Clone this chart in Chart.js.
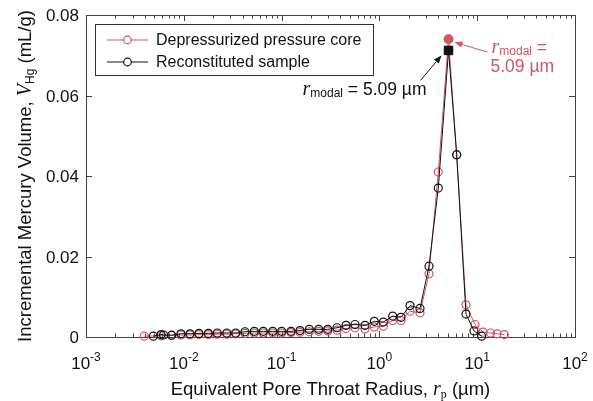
<!DOCTYPE html>
<html>
<head>
<meta charset="utf-8">
<script src="https://cdn.jsdelivr.net/npm/chart.js@4.4.1/dist/chart.umd.min.js"></script>
<style>
  html, body { margin: 0; padding: 0; background: #fff; }
  #wrap { width: 593px; height: 401px; }
</style>
</head>
<body>
<div id="wrap"><canvas id="poreChart" width="593" height="401"></canvas></div>
<script>
// ----------------------------- Data ------------------------------------------
// Reconstituted sample (black)
const rpRecon = [0.00488, 0.00585, 0.00622, 0.00751, 0.00935, 0.01156, 0.01428, 0.0178, 0.0220, 0.0275,
  0.0339, 0.0422, 0.0526, 0.0650, 0.0811, 0.1002, 0.1248, 0.1542, 0.1919, 0.2394,
  0.2960, 0.3685, 0.4556, 0.563, 0.712, 0.887, 1.096, 1.368, 1.663, 2.056,
  2.601, 3.215, 4.00, 5.09, 6.17, 7.68, 9.28, 11.1];
const vRecon = [0.0002, 0.0006, 0.0005, 0.00045, 0.0008, 0.0008, 0.0009, 0.0009, 0.0010, 0.0010,
  0.0010, 0.0013, 0.0014, 0.0014, 0.0014, 0.0014, 0.0014, 0.0016, 0.0019, 0.0019,
  0.0019, 0.0023, 0.0029, 0.0031, 0.0029, 0.0039, 0.0037, 0.0052, 0.0049, 0.0078,
  0.0071, 0.0176, 0.0370, 0.0712, 0.0453, 0.0057, 0.0015, 0.0002];

// Depressurized pressure core (red)
const rpDepress = [0.00394, 0.00585, 0.00751, 0.00935, 0.01156, 0.01428, 0.0178, 0.0220, 0.0275, 0.0339,
  0.0422, 0.0526, 0.0650, 0.0811, 0.1002, 0.1248, 0.1542, 0.1919, 0.2394, 0.2960,
  0.3685, 0.4556, 0.563, 0.712, 0.887, 1.096, 1.368, 1.663, 2.056, 2.601,
  3.215, 4.00, 5.09, 6.17, 7.68, 9.5, 11.47, 13.68, 15.94, 18.93];
const vDepress = [0.0002, 0.0003, 0.0004, 0.0005, 0.0005, 0.0006, 0.0006, 0.0007, 0.0007, 0.0008,
  0.0009, 0.0010, 0.0010, 0.0010, 0.0010, 0.0011, 0.0012, 0.0013, 0.0014, 0.0015,
  0.0017, 0.0021, 0.0023, 0.0020, 0.0025, 0.0027, 0.0041, 0.0041, 0.0064, 0.0060,
  0.0157, 0.0410, 0.0740, 0.0452, 0.0080, 0.0031, 0.0012, 0.0010, 0.0008, 0.0006];

// Modal radii
const modalR = 5.09;
const modalVRecon = 0.0712;
const modalVDepress = 0.0740;

// Ticks
const xTickExps = [-3, -2, -1, 0, 1, 2];
const yTicks = [0, 0.02, 0.04, 0.06, 0.08];
const yTickLabels = ['0', '0.02', '0.04', '0.06', '0.08'];

const seriesNames = ['Depressurized pressure core', 'Reconstituted sample'];

// ----------------------------- Style -----------------------------------------
const RED = '#cd5865';
const BLACK = '#111111';
const AXIS = '#444444';
const SANS = '"Liberation Sans", Arial, sans-serif';
const SERIF = '"Liberation Serif", "Times New Roman", serif';

function toXY(xs, ys) {
  return xs.map((x, i) => ({ x, y: ys[i] }));
}

// draw a row of text runs (font + vertical shift) as one string
function drawRuns(ctx, runs, x, y, align) {
  let total = 0;
  runs.forEach((r) => { ctx.font = r.font; r.w = ctx.measureText(r.t).width; total += r.w; });
  let cx = align === 'center' ? x - total / 2 : align === 'right' ? x - total : x;
  ctx.textAlign = 'left';
  ctx.textBaseline = 'alphabetic';
  runs.forEach((r) => {
    ctx.font = r.font;
    ctx.fillText(r.t, cx, y + (r.dy || 0));
    cx += r.w;
  });
}

function arrow(ctx, x0, y0, x1, y1, color) {
  const a = Math.atan2(y1 - y0, x1 - x0);
  const L = 8, W = 3.2;
  ctx.save();
  ctx.strokeStyle = color;
  ctx.fillStyle = color;
  ctx.lineWidth = 1;
  ctx.beginPath();
  ctx.moveTo(x0, y0);
  ctx.lineTo(x1 - Math.cos(a) * L, y1 - Math.sin(a) * L);
  ctx.stroke();
  ctx.beginPath();
  ctx.moveTo(x1, y1);
  ctx.lineTo(x1 - Math.cos(a) * L - Math.sin(a) * W, y1 - Math.sin(a) * L + Math.cos(a) * W);
  ctx.lineTo(x1 - Math.cos(a) * L + Math.sin(a) * W, y1 - Math.sin(a) * L - Math.cos(a) * W);
  ctx.closePath();
  ctx.fill();
  ctx.restore();
}

// --------------------------- Axes (MATLAB-like box) --------------------------
const axesPlugin = {
  id: 'axesBox',
  beforeDatasetsDraw(chart) {
    const { ctx, chartArea: a, scales } = chart;
    const xs = scales.x, ys = scales.y;
    ctx.save();
    ctx.strokeStyle = AXIS;
    ctx.lineWidth = 1;
    ctx.strokeRect(a.left + 0.5, a.top + 0.5, a.right - a.left, a.bottom - a.top);

    ctx.beginPath();
    // x ticks, major + minor, bottom and top, inward
    for (let e = -3; e <= 2; e++) {
      for (let m = 1; m <= 9; m++) {
        if (e === 2 && m > 1) break;
        const px = Math.round(xs.getPixelForValue(m * Math.pow(10, e))) + 0.5;
        const len = m === 1 ? 6 : 3.5;
        ctx.moveTo(px, a.bottom); ctx.lineTo(px, a.bottom - len);
        ctx.moveTo(px, a.top); ctx.lineTo(px, a.top + len);
      }
    }
    // y ticks, left and right
    yTicks.forEach((v) => {
      const py = Math.round(ys.getPixelForValue(v)) + 0.5;
      ctx.moveTo(a.left, py); ctx.lineTo(a.left + 6, py);
      ctx.moveTo(a.right, py); ctx.lineTo(a.right - 6, py);
    });
    ctx.stroke();

    // tick labels
    ctx.fillStyle = '#111';
    xTickExps.forEach((e) => {
      const px = xs.getPixelForValue(Math.pow(10, e));
      drawRuns(ctx, [
        { t: '10', font: `17px ${SANS}` },
        { t: e < 0 ? '-' + (-e) : String(e), font: `12px ${SANS}`, dy: -8 },
      ], px, a.bottom + 32, 'center');
    });
    yTicks.forEach((v, i) => {
      const py = ys.getPixelForValue(v);
      ctx.font = `17px ${SANS}`;
      ctx.textAlign = 'right';
      ctx.textBaseline = 'alphabetic';
      ctx.fillText(yTickLabels[i], a.left - 7, py + 6);
    });

    // axis titles
    drawRuns(ctx, [
      { t: 'Equivalent Pore Throat Radius, ', font: `18.5px ${SANS}` },
      { t: 'r', font: `italic 20px ${SERIF}` },
      { t: 'p', font: `12px ${SERIF}`, dy: 3 },
      { t: ' (µm)', font: `18.5px ${SANS}` },
    ], (a.left + a.right) / 2, a.bottom + 58, 'center');

    ctx.save();
    ctx.translate(31, (a.top + a.bottom) / 2);
    ctx.rotate(-Math.PI / 2);
    drawRuns(ctx, [
      { t: 'Incremental Mercury Volume, ', font: `18.5px ${SANS}` },
      { t: 'V', font: `italic 20px ${SERIF}` },
      { t: 'Hg', font: `12px ${SANS}`, dy: 3 },
      { t: ' (mL/g)', font: `18.5px ${SANS}` },
    ], 0, 0, 'center');
    ctx.restore();
    ctx.restore();
  },

  afterDraw(chart) {
    const { ctx, scales } = chart;
    const xs = scales.x, ys = scales.y;
    const px = xs.getPixelForValue(modalR);
    const pyB = ys.getPixelForValue(modalVRecon);
    const pyR = ys.getPixelForValue(modalVDepress);

    // legend
    ctx.save();
    ctx.fillStyle = '#fff';
    ctx.strokeStyle = '#333';
    ctx.lineWidth = 1;
    ctx.fillRect(95.5, 24.5, 278, 51);
    ctx.strokeRect(95.5, 24.5, 278, 51);
    [[RED, 40], [BLACK, 62]].forEach(([c, y], i) => {
      ctx.strokeStyle = c;
      ctx.beginPath();
      ctx.moveTo(107, y); ctx.lineTo(148, y);
      ctx.stroke();
      ctx.fillStyle = '#fff';
      ctx.lineWidth = 1.2;
      ctx.beginPath();
      ctx.arc(127.5, y, 3.8, 0, Math.PI * 2);
      ctx.fill();
      ctx.stroke();
      ctx.lineWidth = 1;
      ctx.fillStyle = '#111';
      ctx.font = `16px ${SANS}`;
      ctx.textAlign = 'left';
      ctx.textBaseline = 'middle';
      ctx.fillText(seriesNames[i], 156, y + 1);
    });

    // modal annotations
    arrow(ctx, px - 28, pyB + 30, px - 7, pyB + 5, BLACK);
    ctx.fillStyle = BLACK;
    drawRuns(ctx, [
      { t: 'r', font: `italic 20px ${SERIF}` },
      { t: 'modal', font: `12px ${SANS}`, dy: 2 },
      { t: ' = 5.09 µm', font: `17.5px ${SANS}` },
    ], px - 146, pyB + 45, 'left');

    arrow(ctx, px + 39, pyR + 13, px + 6, pyR + 3, RED);
    ctx.fillStyle = RED;
    drawRuns(ctx, [
      { t: 'r', font: `italic 20px ${SERIF}` },
      { t: 'modal', font: `12px ${SANS}`, dy: 2 },
      { t: ' =', font: `17.5px ${SANS}` },
    ], px + 43, pyR + 14, 'left');
    drawRuns(ctx, [{ t: '5.09 µm', font: `17.5px ${SANS}` }], px + 42, pyR + 33, 'left');
    ctx.restore();
  },
};

// ------------------------------- Chart ---------------------------------------
const openPoint = (color) => ({
  showLine: true,
  borderColor: color,
  backgroundColor: 'rgba(255,255,255,0)',
  borderWidth: 1,
  pointRadius: 4,
  pointBorderWidth: 1.2,
  pointBorderColor: color,
  pointBackgroundColor: 'rgba(255,255,255,0)',
  tension: 0,
  clip: false,
});

new Chart(document.getElementById('poreChart').getContext('2d'), {
  type: 'scatter',
  data: {
    datasets: [
      {
        label: 'modal-depress',
        data: [{ x: modalR, y: modalVDepress }],
        pointStyle: 'circle',
        pointRadius: 4.5,
        pointBackgroundColor: RED,
        pointBorderColor: RED,
        showLine: false,
        clip: false,
        order: 0,
      },
      {
        label: 'modal-recon',
        data: [{ x: modalR, y: modalVRecon }],
        pointStyle: 'rect',
        pointRadius: 6,
        pointBackgroundColor: BLACK,
        pointBorderColor: BLACK,
        showLine: false,
        clip: false,
        order: 0,
      },
      Object.assign({ label: seriesNames[1], data: toXY(rpRecon, vRecon), order: 1 }, openPoint(BLACK)),
      Object.assign({ label: seriesNames[0], data: toXY(rpDepress, vDepress), order: 2 }, openPoint(RED)),
    ],
  },
  options: {
    responsive: false,
    animation: false,
    events: [],
    layout: { padding: { left: 86, right: 18, top: 15, bottom: 64 } },
    scales: {
      x: { type: 'logarithmic', min: 1e-3, max: 1e2, display: false },
      y: { type: 'linear', min: 0, max: 0.08, display: false },
    },
    plugins: {
      legend: { display: false },
      tooltip: { enabled: false },
    },
  },
  plugins: [axesPlugin],
});
</script>
</body>
</html>
